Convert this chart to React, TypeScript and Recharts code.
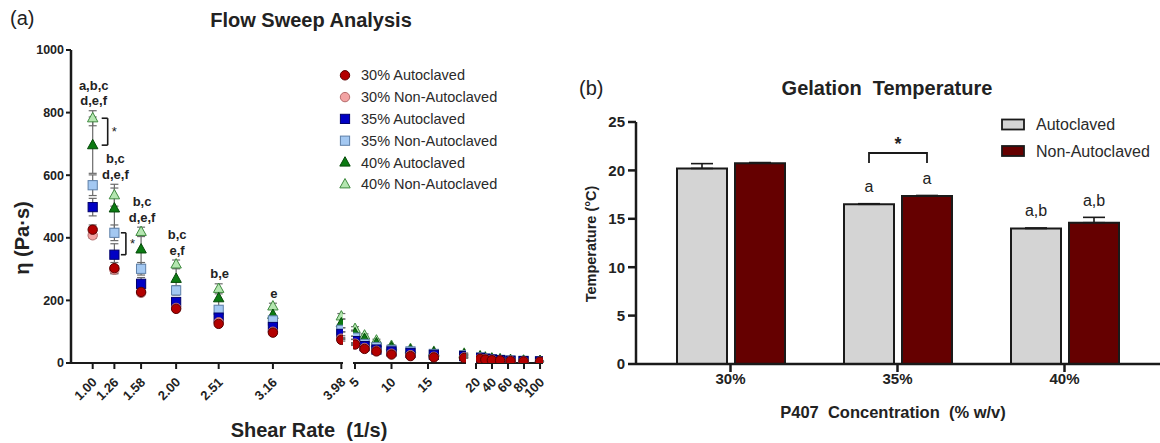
import React from 'react';
import {
  ScatterChart,
  Scatter,
  XAxis,
  YAxis,
  ErrorBar,
  ReferenceLine,
  BarChart,
  Bar,
  LabelList,
} from 'recharts';

const FONT = '"Liberation Sans", Arial, Helvetica, sans-serif';
const INK = '#1a1a1a';

// ---------- (a) Flow sweep ----------
const SHEAR_RATE = [1.0, 1.26, 1.58, 2.0, 2.51, 3.16, 3.98, 5.01, 6.31, 7.94, 10.0, 12.6, 15.8, 19.95, 25.1, 31.6, 39.8, 50.1, 63.1, 79.4, 100];

const ETA_30_AUTO = [426, 303, 227, 173, 125, 97, 74, 59, 45, 37, 27, 22, 18, 16, 13, 11, 9, 8, 6, 5, 4];
const ETA_30_NONAUTO = [408, 298, 224, 176, 130, 100, 78, 62, 48, 39, 30, 25, 20, 18, 14, 12, 10, 8, 7, 5, 4];
const ETA_35_AUTO = [498, 346, 253, 195, 145, 115, 93, 70, 54, 43, 37, 32, 26, 22, 16, 13, 11, 9, 7, 6, 5];
const ETA_35_NONAUTO = [568, 416, 301, 232, 170, 136, 106, 81, 61, 51, 42, 37, 29, 25, 18, 15, 12, 10, 8, 7, 6];
const ETA_40_AUTO = [696, 494, 363, 269, 207, 154, 127, 95, 77, 63, 50, 41, 33, 27, 20, 16, 13, 11, 9, 7, 6];
const ETA_40_NONAUTO = [782, 536, 419, 315, 237, 181, 149, 109, 88, 72, 55, 45, 36, 30, 22, 18, 15, 12, 10, 8, 7];

const SD_30_AUTO = [15, 18, 12, 8, 6, 5, 4, 3, 3, 2, 2, 2, 1, 1, 1, 1, 1, 1, 1, 1, 1];
const SD_30_NONAUTO = [10, 12, 8, 6, 5, 4, 3, 3, 2, 2, 2, 1, 1, 1, 1, 1, 1, 1, 1, 1, 1];
const SD_35_AUTO = [28, 35, 20, 12, 10, 8, 6, 5, 4, 3, 2, 2, 2, 2, 1, 1, 1, 1, 1, 1, 1];
const SD_35_NONAUTO = [33, 25, 20, 15, 10, 8, 6, 5, 4, 3, 3, 2, 2, 2, 1, 1, 1, 1, 1, 1, 1];
const SD_40_AUTO = [90, 65, 50, 35, 25, 20, 14, 10, 8, 6, 4, 3, 3, 2, 2, 1, 1, 1, 1, 1, 1];
const SD_40_NONAUTO = [24, 35, 15, 14, 16, 10, 9, 7, 5, 4, 3, 3, 2, 2, 2, 1, 1, 1, 1, 1, 1];

// letters above the first groups (top series = 40% non-autoclaved)
const GROUP_NOTES = [['a,b,c', 'd,e,f'], ['b,c', 'd,e,f'], ['b,c', 'd,e,f'], ['b,c', 'e,f'], ['b,e'], ['e']];

const ETA_TICKS = [0, 200, 400, 600, 800, 1000];

type Kind = 'circle' | 'square' | 'triangle';
const SERIES: { name: string; eta: number[]; sd: number[]; kind: Kind; fill: string; stroke: string }[] = [
  { name: '30% Autoclaved', eta: ETA_30_AUTO, sd: SD_30_AUTO, kind: 'circle', fill: '#B30000', stroke: '#5a0000' },
  { name: '30% Non-Autoclaved', eta: ETA_30_NONAUTO, sd: SD_30_NONAUTO, kind: 'circle', fill: '#F2A3A3', stroke: '#b56b6b' },
  { name: '35% Autoclaved', eta: ETA_35_AUTO, sd: SD_35_AUTO, kind: 'square', fill: '#0000C4', stroke: '#00006a' },
  { name: '35% Non-Autoclaved', eta: ETA_35_NONAUTO, sd: SD_35_NONAUTO, kind: 'square', fill: '#A3C8F2', stroke: '#5d7fa8' },
  { name: '40% Autoclaved', eta: ETA_40_AUTO, sd: SD_40_AUTO, kind: 'triangle', fill: '#0B7A12', stroke: '#054a09' },
  { name: '40% Non-Autoclaved', eta: ETA_40_NONAUTO, sd: SD_40_NONAUTO, kind: 'triangle', fill: '#B4E6B0', stroke: '#3f8a3f' },
];
const DRAW_ORDER = [5, 4, 3, 2, 1, 0];

// significance brackets: [group index, upper series, lower series]
const SIG_BRACKETS = [
  { index: 0, upper: 5, lower: 4, armFrom: 9, armTo: 15 },
  { index: 1, upper: 3, lower: 2, armFrom: 6.5, armTo: 11.5 },
];

// broken x axis: three segments
const SEGMENTS = [
  { left: 0, width: 350, plotLeft: 71, plotRight: 343, domain: [0.74, 4.0], ticks: [1.0, 1.26, 1.58, 2.0, 2.51, 3.16, 3.98], fixed: true, showY: true },
  { left: 340, width: 130, plotLeft: 353, plotRight: 466, domain: [4.73, 20.2], ticks: [5, 10, 15], fixed: false, showY: false },
  { left: 455, width: 95, plotLeft: 476, plotRight: 543, domain: [20, 103.7], ticks: [20, 40, 60, 80, 100], fixed: false, showY: false },
];

const drawMarker = (kind: Kind, fill: string, stroke: string, cx: number, cy: number) => {
  if (kind === 'circle') return <circle cx={cx} cy={cy} r={4.7} fill={fill} stroke={stroke} strokeWidth={1} />;
  if (kind === 'square') return <rect x={cx - 4.6} y={cy - 4.6} width={9.2} height={9.2} fill={fill} stroke={stroke} strokeWidth={1} />;
  return <path d={`M${cx},${cy - 5.8} L${cx + 5.2},${cy + 3.6} L${cx - 5.2},${cy + 3.6} Z`} fill={fill} stroke={stroke} strokeWidth={1} />;
};

const markerShape = (kind: Kind, fill: string, stroke: string) => (p: any) => {
  if (p.cx == null || p.cy == null) return <g />;
  return drawMarker(kind, fill, stroke, p.cx, p.cy);
};

const noteShape = (p: any) => {
  if (p.cx == null || p.cy == null) return <g />;
  const lines: string[] = p.payload.lines;
  const n = lines.length;
  return (
    <g>
      {lines.map((t, k) => (
        <text key={k} x={p.cx + 1} y={p.cy - 5.5 - (n - 1 - k) * 15.5} textAnchor="middle" fontFamily={FONT} fontWeight="bold" fontSize={13} fill="#222">
          {t}
        </text>
      ))}
    </g>
  );
};

const RotTick = (props: any) => {
  const { x, y, payload, fixed } = props;
  const label = fixed ? Number(payload.value).toFixed(2) : String(payload.value);
  const ex = x + 5;
  const ey = y + 12;
  return (
    <text x={ex} y={ey} textAnchor="end" transform={`rotate(-45 ${ex} ${ey})`} fontFamily={FONT} fontWeight="bold" fontSize={13} fill="#222">
      {label}
    </text>
  );
};

const FlowSegment = ({ seg }: { seg: (typeof SEGMENTS)[number] }) => {
  const [d0, d1] = seg.domain;
  const inSeg = (i: number) => SHEAR_RATE[i] >= d0 && SHEAR_RATE[i] <= d1;
  const pxPerUnit = (seg.plotRight - seg.plotLeft) / (d1 - d0);
  const notes = GROUP_NOTES.map((lines, i) => ({
    x: SHEAR_RATE[i],
    y: ETA_40_NONAUTO[i] + SD_40_NONAUTO[i],
    lines,
  })).filter((_, i) => inSeg(i));

  return (
    <div style={{ position: 'absolute', left: seg.left, top: 0 }}>
      <ScatterChart
        width={seg.width}
        height={443}
        margin={{ top: 50, right: seg.left + seg.width - seg.plotRight, bottom: 0, left: seg.plotLeft - seg.left - (seg.showY ? 71 : 0) }}
      >
        <XAxis
          type="number"
          dataKey="x"
          domain={seg.domain}
          ticks={seg.ticks}
          interval={0}
          allowDataOverflow
          height={80}
          tickSize={6}
          axisLine={{ stroke: INK, strokeWidth: 2 }}
          tickLine={{ stroke: INK, strokeWidth: 2 }}
          tick={<RotTick fixed={seg.fixed} />}
        />
        <YAxis
          type="number"
          dataKey="y"
          domain={[0, 1000]}
          ticks={ETA_TICKS}
          allowDataOverflow
          hide={!seg.showY}
          width={71}
          tickSize={5}
          tickMargin={2}
          axisLine={{ stroke: INK, strokeWidth: 2.5 }}
          tickLine={{ stroke: INK, strokeWidth: 2 }}
          tick={{ fontFamily: FONT, fontWeight: 'bold', fontSize: 12.5, fill: '#222' }}
        />
        {DRAW_ORDER.map((si) => {
          const s = SERIES[si];
          const data = SHEAR_RATE.map((x, i) => ({ x, y: s.eta[i], err: s.sd[i] })).filter((_, i) => inSeg(i));
          return (
            <Scatter key={s.name} name={s.name} data={data} isAnimationActive={false} shape={markerShape(s.kind, s.fill, s.stroke)}>
              <ErrorBar dataKey="err" direction="y" width={4} stroke="#6b6b6b" strokeWidth={1.2} />
            </Scatter>
          );
        })}
        {notes.length > 0 && <Scatter data={notes} isAnimationActive={false} shape={noteShape} />}
        {SIG_BRACKETS.filter((b) => inSeg(b.index)).map((b) => {
          const x = SHEAR_RATE[b.index];
          const xa = x + b.armFrom / pxPerUnit;
          const xb = x + b.armTo / pxPerUnit;
          const yU = SERIES[b.upper].eta[b.index];
          const yL = SERIES[b.lower].eta[b.index];
          return (
            <React.Fragment key={b.index}>
              <ReferenceLine segment={[{ x: xa, y: yU }, { x: xb, y: yU }]} stroke={INK} strokeWidth={1.6} ifOverflow="visible" />
              <ReferenceLine
                segment={[{ x: xb, y: yU }, { x: xb, y: yL }]}
                stroke={INK}
                strokeWidth={1.6}
                ifOverflow="visible"
                label={{ value: '*', position: 'right', offset: 4, fill: '#222', fontSize: 13, fontFamily: FONT }}
              />
              <ReferenceLine segment={[{ x: xa, y: yL }, { x: xb, y: yL }]} stroke={INK} strokeWidth={1.6} ifOverflow="visible" />
            </React.Fragment>
          );
        })}
      </ScatterChart>
    </div>
  );
};

// ---------- (b) Gelation temperature ----------
const CONCENTRATIONS = ['30%', '35%', '40%'];
const GEL_AUTO = [20.2, 16.5, 14.0];
const GEL_AUTO_SD = [0.5, 0.06, 0.05];
const GEL_NONAUTO = [20.75, 17.35, 14.6];
const GEL_NONAUTO_SD = [0.06, 0.06, 0.55];
const GEL_AUTO_NOTES = ['', 'a', 'a,b'];
const GEL_NONAUTO_NOTES = ['', 'a', 'a,b'];
const GEL_SIG_INDEX = 1;
const GEL_SIG_LEVEL = 21.8;
const TEMP_TICKS = [0, 5, 10, 15, 20, 25];
const BAR_GAP = 8;

const gelData = CONCENTRATIONS.map((c, i) => ({
  conc: c,
  auto: GEL_AUTO[i],
  autoErr: [0, GEL_AUTO_SD[i]],
  nonAuto: GEL_NONAUTO[i],
  nonAutoErr: [0, GEL_NONAUTO_SD[i]],
}));

const barNote = (notes: string[], sds: number[], withBracket: boolean) => (p: any) => {
  const vb = p.viewBox ?? p;
  const x = vb.x ?? p.x;
  const y = vb.y ?? p.y;
  const w = vb.width ?? p.width;
  const h = vb.height ?? p.height;
  const i = p.index;
  const v = Number(p.value);
  if (x == null || y == null || !h || !v) return <g />;
  const pxPerUnit = h / v;
  const base = y + h;
  const errTop = base - (v + sds[i]) * pxPerUnit;
  const cx = x + w / 2;
  const note = notes[i];
  const bracket = withBracket && i === GEL_SIG_INDEX;
  const yTop = base - GEL_SIG_LEVEL * pxPerUnit;
  const x2 = cx + w + BAR_GAP;
  return (
    <g>
      {note && (
        <text x={cx} y={errTop - 11.5} textAnchor="middle" fontFamily={FONT} fontSize={16} fill="#222">
          {note}
        </text>
      )}
      {bracket && (
        <g>
          <path d={`M${cx},${yTop + 10} L${cx},${yTop} L${x2},${yTop} L${x2},${yTop + 10}`} fill="none" stroke={INK} strokeWidth={1.8} />
          <text x={(cx + x2) / 2} y={yTop - 3} textAnchor="middle" fontFamily={FONT} fontWeight="bold" fontSize={18} fill="#222">
            *
          </text>
        </g>
      )}
    </g>
  );
};

const GelChart = () => (
  <div style={{ position: 'absolute', left: 560, top: 0 }}>
    <BarChart width={600} height={443} data={gelData} margin={{ top: 122, right: 0, bottom: 0, left: 0 }} barSize={50} barGap={BAR_GAP}>
      <XAxis
        dataKey="conc"
        height={79}
        padding={{ left: 11, right: 12 }}
        tickSize={8}
        tickMargin={1}
        axisLine={{ stroke: INK, strokeWidth: 2.5 }}
        tickLine={{ stroke: INK, strokeWidth: 2.5 }}
        tick={{ fontFamily: FONT, fontWeight: 'bold', fontSize: 15, fill: '#222' }}
      />
      <YAxis
        type="number"
        domain={[0, 25]}
        ticks={TEMP_TICKS}
        width={76}
        tickSize={8}
        tickMargin={3}
        axisLine={{ stroke: INK, strokeWidth: 2.5 }}
        tickLine={{ stroke: INK, strokeWidth: 2.5 }}
        tick={{ fontFamily: FONT, fontWeight: 'bold', fontSize: 15, fill: '#222' }}
      />
      <Bar dataKey="auto" fill="#D4D4D4" stroke={INK} strokeWidth={2} isAnimationActive={false}>
        <ErrorBar dataKey="autoErr" direction="y" width={11} stroke={INK} strokeWidth={1.6} />
        <LabelList dataKey="auto" content={barNote(GEL_AUTO_NOTES, GEL_AUTO_SD, true)} />
      </Bar>
      <Bar dataKey="nonAuto" fill="#650000" stroke={INK} strokeWidth={2} isAnimationActive={false}>
        <ErrorBar dataKey="nonAutoErr" direction="y" width={11} stroke={INK} strokeWidth={1.6} />
        <LabelList dataKey="nonAuto" content={barNote(GEL_NONAUTO_NOTES, GEL_NONAUTO_SD, false)} />
      </Bar>
    </BarChart>
  </div>
);

// ---------- static text / legends ----------
const Overlay = () => (
  <svg width={1160} height={443} style={{ position: 'absolute', left: 0, top: 0, pointerEvents: 'none' }} fontFamily={FONT}>
    <text x={10} y={25} fontSize={20} fill="#222">(a)</text>
    <text x={311} y={27} textAnchor="middle" fontSize={20} fontWeight="bold" fill="#222">Flow Sweep Analysis</text>
    <text transform="translate(29,238) rotate(-90)" textAnchor="middle" fontSize={20} fontWeight="bold" fill="#222">η (Pa·s)</text>
    <text x={309} y={437} textAnchor="middle" fontSize={20} fontWeight="bold" fill="#222" style={{ whiteSpace: 'pre' }}>{'Shear Rate  (1/s)'}</text>
    {SERIES.map((s, i) => {
      const cy = 75.3 + i * 21.8;
      return (
        <g key={s.name}>
          {drawMarker(s.kind, s.fill, s.stroke, 345, cy)}
          <text x={361} y={cy + 5} fontSize={14.5} fill="#2a2a2a">{s.name}</text>
        </g>
      );
    })}

    <text x={579} y={95} fontSize={20} fill="#222">(b)</text>
    <text x={887} y={95} textAnchor="middle" fontSize={20} fontWeight="bold" fill="#222" style={{ whiteSpace: 'pre' }}>{'Gelation  Temperature'}</text>
    <text transform="translate(596,244) rotate(-90)" textAnchor="middle" fontSize={14.5} fontWeight="bold" fill="#222">Temperature (°C)</text>
    <text x={893} y={418} textAnchor="middle" fontSize={16.5} fontWeight="bold" fill="#222" style={{ whiteSpace: 'pre' }}>{'P407  Concentration  (% w/v)'}</text>
    <rect x={1002} y={119.5} width={22} height={10} fill="#D4D4D4" stroke={INK} strokeWidth={1.8} />
    <text x={1036} y={130} fontSize={16} fill="#2a2a2a">Autoclaved</text>
    <rect x={1002} y={146} width={22} height={10} fill="#650000" stroke={INK} strokeWidth={1.8} />
    <text x={1036} y={156.5} fontSize={16} fill="#2a2a2a">Non-Autoclaved</text>
  </svg>
);

export default function App() {
  return (
    <div style={{ position: 'absolute', left: 0, top: 0, width: 1160, height: 443, background: '#fff', fontFamily: FONT }}>
      {SEGMENTS.map((seg, i) => (
        <FlowSegment key={i} seg={seg} />
      ))}
      <GelChart />
      <Overlay />
    </div>
  );
}
